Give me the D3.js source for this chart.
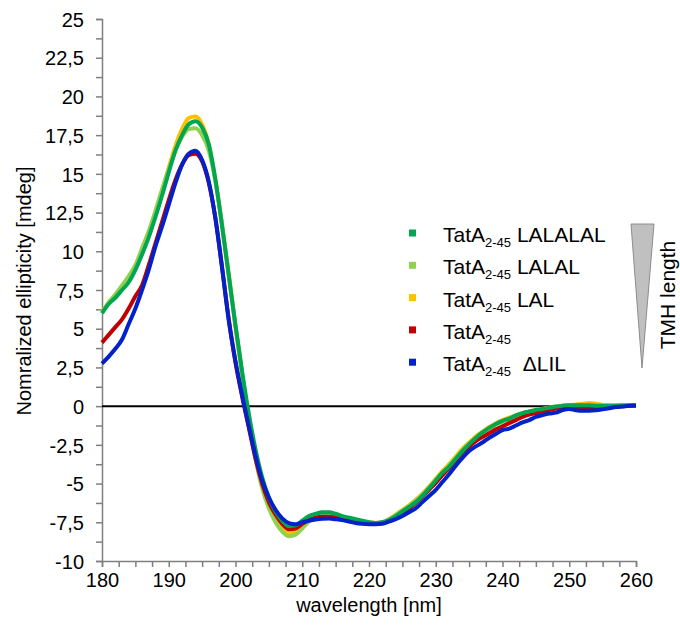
<!DOCTYPE html>
<html>
<head>
<meta charset="utf-8">
<script src="https://cdn.jsdelivr.net/npm/d3@7"></script>
<style>
    body { margin: 0; background: #fff; }
    svg { font-family: "Liberation Sans", Arial, sans-serif; }
    .axis path, .axis line { stroke: #7f7f7f; stroke-width: 1.5; }
    .axis text { fill: #000; font-size: 20px; }
</style>
</head>
<body>
<div id="cd-chart"></div>
<script>
// Wavelengths (nm), one reading per nm
const wavelengths = d3.range(180, 261, 1);

// Normalized ellipticity [mdeg] per construct
const lalalal = [6.0, 6.6, 7.0, 7.5, 8.0, 8.8, 9.8, 10.9, 12.2, 13.6,
    15.1, 16.5, 17.5, 18.2, 18.4, 18.0, 16.9, 14.6, 11.6, 8.4,
    5.2, 2.2, -0.5, -2.8, -4.6, -5.9, -6.8, -7.4, -7.75, -7.7,
    -7.4, -7.1, -6.95, -6.85, -6.85, -6.95, -7.1, -7.2, -7.3, -7.4,
    -7.5, -7.55, -7.5, -7.35, -7.1, -6.8, -6.5, -6.2, -5.8, -5.3,
    -4.8, -4.3, -3.9, -3.4, -2.9, -2.45, -2.05, -1.7, -1.4, -1.15,
    -0.95, -0.8, -0.6, -0.45, -0.35, -0.25, -0.18, -0.1, -0.02, 0.03,
    0.06, 0.06, 0.06, 0.05, 0.03, 0.02, 0.02, 0.03, 0.04, 0.04, 0.04];

const lalal = [6.0, 6.7, 7.2, 7.8, 8.4, 9.1, 10.2, 11.3, 12.6, 14.0,
    15.3, 16.5, 17.4, 17.9, 17.95, 17.5, 16.5, 14.5, 11.7, 8.5,
    5.2, 2.1, -0.9, -3.4, -5.3, -6.6, -7.5, -8.1, -8.4, -8.3,
    -7.9, -7.45, -7.15, -7.0, -7.0, -7.05, -7.15, -7.3, -7.4, -7.5,
    -7.55, -7.55, -7.5, -7.3, -7.05, -6.75, -6.45, -6.1, -5.7, -5.25,
    -4.8, -4.3, -3.85, -3.35, -2.85, -2.45, -2.05, -1.75, -1.45, -1.2,
    -1.0, -0.85, -0.65, -0.5, -0.4, -0.3, -0.22, -0.14, -0.06, 0.0,
    0.04, 0.05, 0.06, 0.06, 0.04, 0.02, 0.02, 0.03, 0.03, 0.04, 0.04];

const lal = [6.1, 6.7, 7.2, 7.7, 8.3, 9.0, 10.0, 11.1, 12.4, 13.9,
    15.4, 16.8, 17.9, 18.6, 18.7, 18.2, 16.9, 14.6, 11.6, 8.4,
    5.1, 2.0, -0.8, -3.2, -5.1, -6.4, -7.3, -7.9, -8.2, -8.1,
    -7.7, -7.3, -7.1, -7.0, -7.0, -7.05, -7.15, -7.25, -7.35, -7.45,
    -7.5, -7.55, -7.5, -7.3, -7.0, -6.7, -6.4, -6.05, -5.65, -5.2,
    -4.7, -4.2, -3.75, -3.25, -2.75, -2.35, -1.95, -1.65, -1.35, -1.1,
    -0.9, -0.75, -0.6, -0.45, -0.35, -0.25, -0.17, -0.1, -0.03, 0.02,
    0.06, 0.1, 0.15, 0.2, 0.15, 0.08, 0.05, 0.05, 0.05, 0.05, 0.05];

const wildtype = [4.1, 4.6, 5.1, 5.6, 6.3, 7.1, 7.8, 9.1, 10.5, 11.9,
    13.3, 14.6, 15.6, 16.2, 16.3, 15.8, 14.4, 12.1, 8.9, 5.6,
    2.8, 0.6, -1.4, -3.4, -5.0, -6.2, -7.0, -7.6, -7.95, -7.9,
    -7.6, -7.35, -7.2, -7.15, -7.15, -7.2, -7.3, -7.4, -7.5, -7.55,
    -7.6, -7.6, -7.55, -7.4, -7.15, -6.9, -6.6, -6.25, -5.85, -5.4,
    -4.95, -4.45, -4.0, -3.5, -3.0, -2.6, -2.25, -2.0, -1.75, -1.5,
    -1.3, -1.1, -0.9, -0.7, -0.55, -0.45, -0.35, -0.25, -0.15, -0.08,
    -0.1, -0.12, -0.15, -0.15, -0.12, -0.1, -0.06, -0.02, 0.0, 0.02, 0.04];

const deltaLIL = [2.75, 3.2, 3.7, 4.3, 5.3, 6.3, 7.5, 8.8, 10.3, 11.6,
    13.0, 14.4, 15.6, 16.3, 16.5, 15.9, 14.5, 12.1, 8.9, 5.5,
    2.9, 0.7, -1.3, -3.2, -4.8, -5.9, -6.7, -7.25, -7.55, -7.62,
    -7.5, -7.4, -7.32, -7.27, -7.25, -7.3, -7.36, -7.45, -7.55, -7.6,
    -7.62, -7.62, -7.6, -7.45, -7.3, -7.1, -6.85, -6.6, -6.2, -5.8,
    -5.4, -4.9, -4.4, -3.85, -3.35, -2.9, -2.6, -2.35, -2.05, -1.8,
    -1.55, -1.45, -1.25, -1.05, -0.9, -0.7, -0.58, -0.48, -0.42, -0.25,
    -0.18, -0.26, -0.3, -0.3, -0.27, -0.21, -0.14, -0.06, -0.02, 0.02, 0.05];

// Legend order (top to bottom)
const seriesNames = ["LALALAL", "LALAL", "LAL", "", "\u0394LIL"];
const seriesColors = ["#00a651", "#92d050", "#ffc000", "#c00000", "#0022c8"];
const seriesValues = [lalalal, lalal, lal, wildtype, deltaLIL];
// Drawing order: index into the lists above
const drawOrder = [2, 1, 3, 0, 4];

const yTicks = d3.range(-10, 25.01, 1.25);
const xTicks = d3.range(180, 260.01, 2.5);

// Set SVG parameters
const width = 680,
    height = 634;

const svg = d3.select("#cd-chart")
    .append("svg")
    .attr("width", width)
    .attr("height", height);

// Scales
const x = d3.scaleLinear().domain([180, 260]).range([102, 636]);
const y = d3.scaleLinear().domain([-10, 25]).range([561, 19]);

// Comma decimals, plain hyphen minus
const locale = d3.formatLocale({ decimal: ",", thousands: ".", grouping: [3], currency: ["", ""], minus: "-" });
const fmt = locale.format(".1~f");

// Y axis
svg.append("g")
    .attr("class", "axis")
    .attr("transform", `translate(${x(180)},0)`)
    .call(d3.axisLeft(y)
        .tickValues(yTicks)
        .tickSize(6)
        .tickPadding(12)
        .tickFormat(d => (Math.abs(d / 2.5 - Math.round(d / 2.5)) < 1e-6 ? fmt(d) : "")))
    .call(g => g.selectAll("text").attr("dy", "0.36em"));

// X axis
svg.append("g")
    .attr("class", "axis")
    .attr("transform", `translate(0,${y(-10)})`)
    .call(d3.axisBottom(x)
        .tickValues(xTicks)
        .tickSize(6)
        .tickPadding(6)
        .tickFormat(d => (d % 10 === 0 ? d : "")));

// Zero line
svg.append("line")
    .attr("x1", x(180)).attr("x2", x(260))
    .attr("y1", y(0)).attr("y2", y(0))
    .attr("stroke", "#000")
    .attr("stroke-width", 2);

// Spectra
const line = d3.line()
    .x((d, i) => x(wavelengths[i]))
    .y(d => y(d))
    .curve(d3.curveMonotoneX);

svg.append("g")
    .selectAll("path")
    .data(drawOrder)
    .enter().append("path")
    .attr("d", i => line(seriesValues[i]))
    .attr("fill", "none")
    .attr("stroke", i => seriesColors[i])
    .attr("stroke-width", 4)
    .attr("stroke-linejoin", "round");

// Axis titles
svg.append("text")
    .attr("transform", "translate(31,291) rotate(-90)")
    .attr("text-anchor", "middle")
    .style("font-size", "20px")
    .text("Nomralized ellipticity [mdeg]");

svg.append("text")
    .attr("x", x(220))
    .attr("y", 612)
    .attr("text-anchor", "middle")
    .style("font-size", "20px")
    .text("wavelength [nm]");

// Legend
const legend = svg.append("g")
    .selectAll("g")
    .data(seriesNames)
    .enter().append("g")
    .attr("transform", (d, i) => `translate(0,${233 + i * 32.3})`);

legend.append("rect")
    .attr("x", 409).attr("y", -3.5)
    .attr("width", 7).attr("height", 7)
    .attr("fill", (d, i) => seriesColors[i]);

const label = legend.append("text")
    .attr("x", 443)
    .attr("y", 9)
    .style("font-size", "21px");

label.append("tspan").text("TatA");
label.append("tspan")
    .attr("dy", 5)
    .style("font-size", "13px")
    .text("2-45");
// the ΔLIL entry has a wider gap in the original
label.append("tspan")
    .attr("dy", -5)
    .text(d => (d ? (d[0] === "\u0394" ? "\u00a0\u00a0" : "\u00a0") + d : ""));

// TMH length wedge
svg.append("path")
    .attr("d", "M631,224L654,224L642,368Z")
    .attr("fill", "#c0c0c0")
    .attr("stroke", "#8c8c8c")
    .attr("stroke-width", 1);

svg.append("text")
    .attr("transform", "translate(675,295) rotate(-90)")
    .attr("text-anchor", "middle")
    .style("font-size", "21px")
    .text("TMH length");
</script>
</body>
</html>
